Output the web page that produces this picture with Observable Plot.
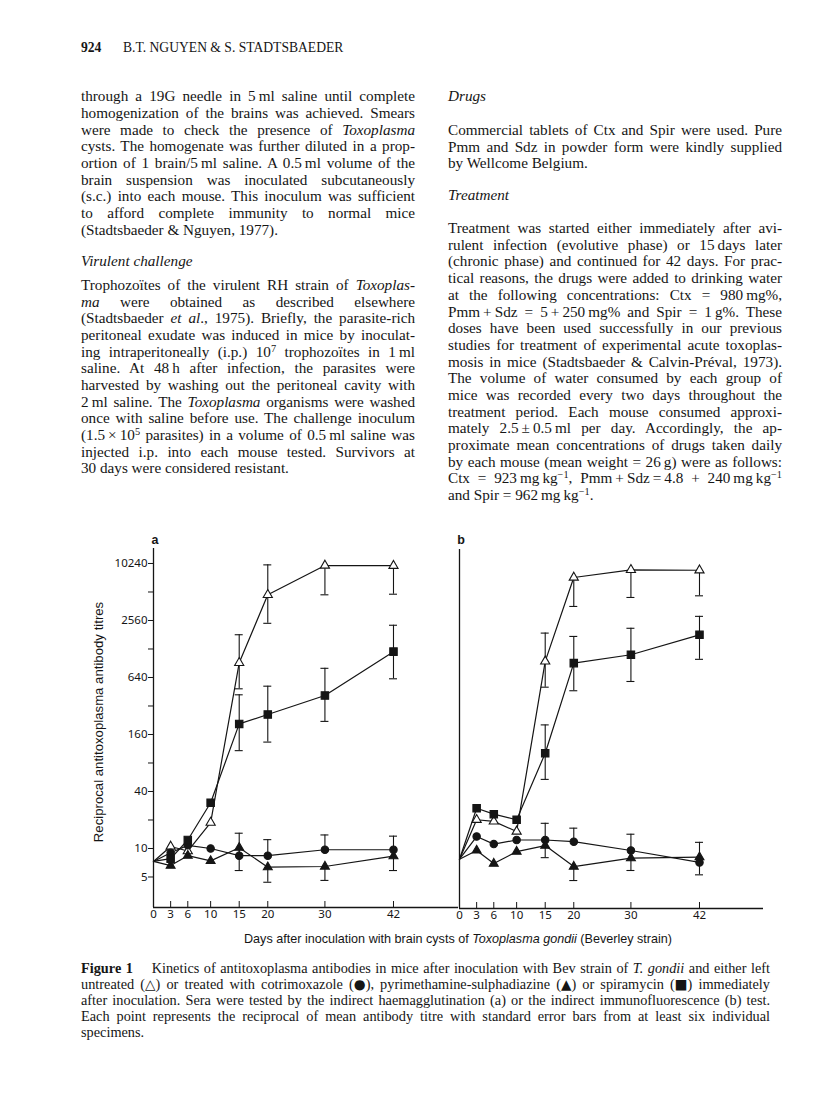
<!DOCTYPE html>
<html><head><meta charset="utf-8">
<script src="https://cdn.jsdelivr.net/npm/d3@7"></script>
<script src="https://cdn.jsdelivr.net/npm/@observablehq/plot@0.6"></script>
<style>
html,body{margin:0;padding:0;background:#fff;}
#page{position:relative;width:816px;height:1113px;overflow:hidden;color:#151515;font-family:"Liberation Serif","Times New Roman",serif;}
.ln{position:absolute;white-space:nowrap;}
.ln sup{font-size:0.68em;line-height:0;vertical-align:0.45em;}
.sym{font-family:"DejaVu Sans",sans-serif;font-size:0.95em;line-height:0;}
.sans{font-family:"Liberation Sans",Arial,sans-serif;}
.abs{position:absolute;}
svg{overflow:visible;}
</style>
</head><body><div id="page"></div>
<script>
// ---------------- data ----------------
const days = [0, 3, 6, 10, 15, 20, 30, 42];
const dayTicks = [0, 3, 6, 10, 15, 20, 30, 42];
const yTickLabels = [5, 10, 40, 160, 640, 2560, 10240];
const yMinorTicks = [20, 80, 320, 1280, 5120];

// Panel a: indirect haemagglutination
const aUntreated   = [7.3, 10.5, 9.4, 18.8, 915, 4780, 9750, 9700];
const aUntreatedHi = [null, null, null, null, 1810, 9900, null, null];
const aUntreatedLo = [null, null, null, null, 486, 2390, 4780, 4850];
const aCtx         = [7.3, 9.0, 10.8, 10.0, 8.4, 8.4, 9.7, 9.7];
const aCtxHi       = [null, null, null, null, 14.5, 12.4, 13.9, 13.5];
const aPmmSdz      = [7.3, 6.6, 8.4, 7.4, 10.2, 6.35, 6.45, 8.3];
const aPmmSdzLo    = [null, null, null, null, 5.85, 4.4, 4.6, 5.85];
const aSpir        = [7.3, 7.8, 12.3, 30.4, 207, 260, 413, 1200];
const aSpirHi      = [null, null, null, null, 420, 518, 800, 2280];
const aSpirLo      = [null, null, null, null, 108, 133, 220, 620];

// Panel b: indirect immunofluorescence
const bUntreated   = [7.9, 20.6, 19.8, 15.5, 970, 7460, 8990, 8900];
const bUntreatedHi = [null, null, null, null, 1930, null, null, null];
const bUntreatedLo = [null, null, null, null, 518, 3690, 4590, 4780];
const bCtx         = [7.9, 13.7, 11.4, 12.6, 12.6, 12.1, 9.76, 7.3];
const bCtxHi       = [null, null, null, null, 18.9, 16.8, 14.5, 11.9];
const bCtxLo       = [null, null, null, null, null, null, null, 5.4];
const bPmmSdz      = [7.9, 9.76, 7.1, 9.5, 11.0, 6.6, 8.1, 8.3];
const bPmmSdzLo    = [null, null, null, null, 8.2, 4.7, 6.0, null];
const bSpir        = [7.9, 27.3, 23.6, 20.6, 104, 930, 1140, 1850];
const bSpirHi      = [null, null, null, null, 207, 1780, 2170, 2900];
const bSpirLo      = [null, null, null, null, 55, 475, 595, 1020];

// ---------------- text ----------------
const headerNum = "924";
const headerAuthors = "B.T. NGUYEN &amp; S. STADTSBAEDER";
const leftPara1 = [
 "through a 19G needle in 5\u2009ml saline until complete",
 "homogenization of the brains was achieved. Smears",
 "were made to check the presence of <i>Toxoplasma</i>",
 "cysts. The homogenate was further diluted in a prop-",
 "ortion of 1 brain/5\u2009ml saline. A 0.5\u2009ml volume of the",
 "brain suspension was inoculated subcutaneously",
 "(s.c.) into each mouse. This inoculum was sufficient",
 "to afford complete immunity to normal mice",
 "(Stadtsbaeder &amp; Nguyen, 1977)."
];
const leftHeading = "Virulent challenge";
const leftPara2 = [
 "Trophozoïtes of the virulent RH strain of <i>Toxoplas-</i>",
 "<i>ma</i> were obtained as described elsewhere",
 "(Stadtsbaeder <i>et al</i>., 1975). Briefly, the parasite-rich",
 "peritoneal exudate was induced in mice by inoculat-",
 "ing intraperitoneally (i.p.) 10<sup>7</sup> trophozoïtes in 1\u2009ml",
 "saline. At 48\u2009h after infection, the parasites were",
 "harvested by washing out the peritoneal cavity with",
 "2\u2009ml saline. The <i>Toxoplasma</i> organisms were washed",
 "once with saline before use. The challenge inoculum",
 "(1.5\u2009×\u200910<sup>5</sup> parasites) in a volume of 0.5\u2009ml saline was",
 "injected i.p. into each mouse tested. Survivors at",
 "30 days were considered resistant."
];
const rightHeading1 = "Drugs";
const rightPara1 = [
 "Commercial tablets of Ctx and Spir were used. Pure",
 "Pmm and Sdz in powder form were kindly supplied",
 "by Wellcome Belgium."
];
const rightHeading2 = "Treatment";
const rightPara2 = [
 "Treatment was started either immediately after avi-",
 "rulent infection (evolutive phase) or 15\u2009days later",
 "(chronic phase) and continued for 42 days. For prac-",
 "tical reasons, the drugs were added to drinking water",
 "at the following concentrations: Ctx = 980\u2009mg%,",
 "Pmm\u2009+\u2009Sdz = 5\u2009+\u2009250\u2009mg% and Spir = 1\u2009g%. These",
 "doses have been used successfully in our previous",
 "studies for treatment of experimental acute toxoplas-",
 "mosis in mice (Stadtsbaeder &amp; Calvin-Préval, 1973).",
 "The volume of water consumed by each group of",
 "mice was recorded every two days throughout the",
 "treatment period. Each mouse consumed approxi-",
 "mately 2.5\u2009±\u20090.5\u2009ml per day. Accordingly, the ap-",
 "proximate mean concentrations of drugs taken daily",
 "by each mouse (mean weight = 26\u2009g) were as follows:",
 "Ctx = 923\u2009mg\u2009kg<sup>−1</sup>, Pmm\u2009+\u2009Sdz\u2009=\u20094.8 + 240\u2009mg\u2009kg<sup>−1</sup>",
 "and Spir = 962\u2009mg\u2009kg<sup>−1</sup>."
];
const yAxisTitle = "Reciprocal antitoxoplasma antibody titres";
const xAxisTitle = "Days after inoculation with brain cysts of <i>Toxoplasma gondii</i> (Beverley strain)";
const captionLines = [
 "<b>Figure 1</b>\u2003 Kinetics of antitoxoplasma antibodies in mice after inoculation with Bev strain of <i>T. gondii</i> and either left",
 "untreated (<span class='sym'>△</span>) or treated with cotrimoxazole (<span class='sym'>●</span>), pyrimethamine-sulphadiazine (<span class='sym'>▲</span>) or spiramycin (<span class='sym'>■</span>) immediately",
 "after inoculation. Sera were tested by the indirect haemagglutination (a) or the indirect immunofluorescence (b) test.",
 "Each point represents the reciprocal of mean antibody titre with standard error bars from at least six individual",
 "specimens."
];

// ---------------- page text ----------------
const page = document.getElementById("page");
function line(html, x, yc, w, {size = 15.2, lh = 16.7, justify = true, cls = "", style = ""} = {}) {
  const d = document.createElement("div");
  d.className = "ln " + cls;
  d.style.cssText = `left:${x}px;top:${yc - lh / 2 - 1.5}px;font-size:${size}px;line-height:${lh}px;${style}`;
  d.innerHTML = html;
  page.appendChild(d);
  if (justify && w) {
    const nat = d.getBoundingClientRect().width;
    const n = (d.textContent.match(/[ \u00a0]/g) || []).length;
    if (n) d.style.wordSpacing = ((w - nat) / n) + "px";
  }
  return d;
}
const L = 81, LW = 334, R = 448, RW = 334, LH = 16.67;
line(`<b>${headerNum}</b>`, 81, 50, 0, {size: 13.6, justify: false});
line(headerAuthors, 123, 50, 0, {size: 13.6, justify: false});

leftPara1.forEach((t, i) => line(t, L, 98.3 + LH * i, LW, {justify: i < leftPara1.length - 1}));
line(`<i>${leftHeading}</i>`, L, 263.3, 0, {justify: false});
leftPara2.forEach((t, i) => line(t, L, 286.7 + LH * i, LW, {justify: i < leftPara2.length - 1}));

line(`<i>${rightHeading1}</i>`, R, 98.3, 0, {justify: false});
rightPara1.forEach((t, i) => line(t, R, 131.7 + LH * i, RW, {justify: i < rightPara1.length - 1}));
line(`<i>${rightHeading2}</i>`, R, 196.7, 0, {justify: false});
rightPara2.forEach((t, i) => line(t, R, 230 + LH * i, RW, {justify: i < rightPara2.length - 1}));

// caption
captionLines.forEach((t, i) => line(t, 81, 969 + 16 * i, 689, {size: 14.3, lh: 16, justify: i < captionLines.length - 1}));

// ---------------- chart ----------------
const Y_LO = 2.381, Y_HI = 14742;      // extent of the drawn y axis
const TOP = 530, MT = 18, MB = 25, H = 402;
const INK = "#151515";

function buildRows(list) {
  const rows = [];
  for (const s of list) days.forEach((d, i) => rows.push({
    series: s.name, day: d, value: s.values[i],
    hi: s.hi ? s.hi[i] : null, lo: s.lo ? s.lo[i] : null
  }));
  return rows;
}
const styles = {
  untreated: {symbol: "triangle", r: 3.4, fill: "white"},
  ctx: {symbol: "circle", r: 3.7, fill: INK},
  pmm: {symbol: "triangle", r: 3.3, fill: INK},
  spir: {symbol: "square", r: 4.2, fill: INK}
};

function panel({series, width, marginLeft, marginRight, xMax, yAxis}) {
  const rows = buildRows(series);
  const hiRows = rows.filter(d => d.hi != null);
  const loRows = rows.filter(d => d.lo != null);
  const marks = [
    Plot.line(rows, {x: "day", y: "value", z: "series", stroke: INK, strokeWidth: 1.2}),
    Plot.ruleX(hiRows, {x: "day", y1: "value", y2: "hi", stroke: INK, strokeWidth: 1.1}),
    Plot.ruleX(loRows, {x: "day", y1: "value", y2: "lo", stroke: INK, strokeWidth: 1.1}),
    Plot.ruleY(hiRows, {y: "hi", x1: "day", x2: "day", insetLeft: -4, insetRight: -4, stroke: INK, strokeWidth: 1.1}),
    Plot.ruleY(loRows, {y: "lo", x1: "day", x2: "day", insetLeft: -4, insetRight: -4, stroke: INK, strokeWidth: 1.1}),
    Plot.ruleY([Y_LO], {stroke: INK, strokeWidth: 1.3}),
    Plot.ruleX([0], {stroke: INK, strokeWidth: 1.3}),
    Plot.ruleX(dayTicks.filter(d => d > 0), {insetTop: H - MT - MB - 6, stroke: INK, strokeWidth: 1}),
    Plot.axisX(dayTicks, {tickSize: 0, tickPadding: 2, fontSize: 11.5, label: null, tickFormat: d => String(d)})
  ];
  for (const s of series) {
    const st = styles[s.name];
    marks.push(Plot.dot(rows.filter(d => d.series === s.name && d.day > 0),
      {x: "day", y: "value", symbol: st.symbol, r: st.r, fill: st.fill, stroke: INK, strokeWidth: 1.1}));
  }
  if (yAxis) {
    marks.push(Plot.axisY(yTickLabels, {tickSize: 5, tickPadding: 1, fontSize: 11.5, label: null, tickFormat: d => String(d)}));
    marks.push(Plot.axisY(yMinorTicks, {tickSize: 5, label: null, tickFormat: () => ""}));
  }
  return Plot.plot({
    width, height: H, marginTop: MT, marginBottom: MB, marginLeft, marginRight,
    style: {fontFamily: "'Liberation Sans', Arial, sans-serif", fontSize: "11.5px", color: INK, background: "transparent"},
    x: {type: "linear", domain: [0, xMax], label: null},
    y: {type: "log", base: 2, domain: [Y_LO, Y_HI], label: null, axis: yAxis ? undefined : null},
    marks
  });
}

const pxPerDay = 5.714;
const aSvg = panel({
  series: [
    {name: "untreated", values: aUntreated, hi: aUntreatedHi, lo: aUntreatedLo},
    {name: "ctx", values: aCtx, hi: aCtxHi},
    {name: "pmm", values: aPmmSdz, lo: aPmmSdzLo},
    {name: "spir", values: aSpir, hi: aSpirHi, lo: aSpirLo}
  ],
  width: 400, marginLeft: 93, marginRight: 2, xMax: 305 / pxPerDay, yAxis: true
});
aSvg.style.cssText = `position:absolute;left:60px;top:${TOP}px;`;
page.appendChild(aSvg);

const bSvg = panel({
  series: [
    {name: "untreated", values: bUntreated, hi: bUntreatedHi, lo: bUntreatedLo},
    {name: "ctx", values: bCtx, hi: bCtxHi, lo: bCtxLo},
    {name: "pmm", values: bPmmSdz, lo: bPmmSdzLo},
    {name: "spir", values: bSpir, hi: bSpirHi, lo: bSpirLo}
  ],
  width: 323, marginLeft: 9, marginRight: 10, xMax: 304 / pxPerDay, yAxis: false
});
bSvg.style.cssText = `position:absolute;left:450px;top:${TOP + 1}px;`;
page.appendChild(bSvg);

// chart texts
function label(html, cx, cy, css) {
  const d = document.createElement("div");
  d.className = "abs sans";
  d.style.cssText = `left:${cx}px;top:${cy}px;transform:translate(-50%,-50%);white-space:nowrap;${css}`;
  d.innerHTML = html;
  page.appendChild(d);
}
label("a", 155, 540, "font-weight:bold;font-size:12.5px;");
label("b", 461, 540, "font-weight:bold;font-size:12.5px;");
label(yAxisTitle, 98, 722, "font-size:13.2px;transform:translate(-50%,-50%) rotate(-90deg);");
label(xAxisTitle, 458, 939, "font-size:12.6px;");
</script>
</body></html>
